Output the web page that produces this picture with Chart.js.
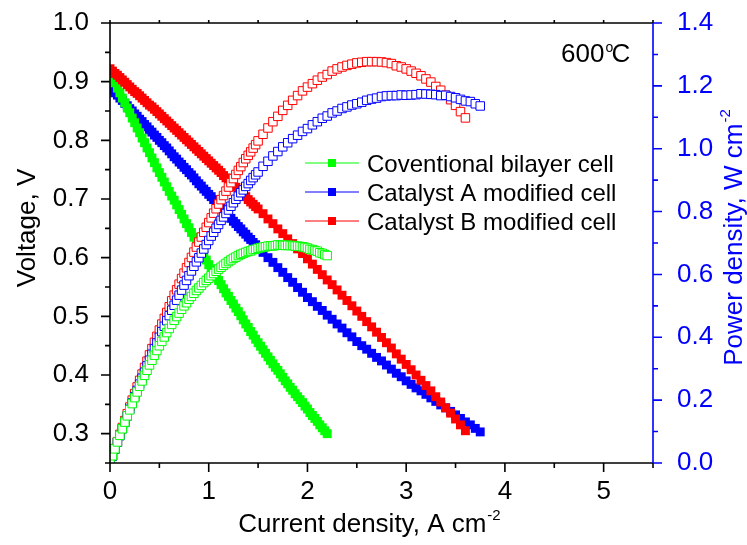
<!DOCTYPE html>
<html>
<head>
<meta charset="utf-8">
<script src="https://cdn.jsdelivr.net/npm/chart.js@4.4.0/dist/chart.umd.min.js"></script>
<style>
  html, body { margin: 0; padding: 0; background: #fff; }
</style>
</head>
<body>
<canvas id="polarization" width="747" height="545"></canvas>
<script>
// current density, A cm-2
const greenCurrent = [0, 0.025, 0.05, 0.075, 0.1, 0.125, 0.15, 0.175, 0.2, 0.225, 0.25, 0.275, 0.3, 0.325,
  0.35, 0.375, 0.4, 0.425, 0.45, 0.475, 0.5, 0.525, 0.55, 0.575, 0.6, 0.625, 0.65, 0.675, 0.7, 0.725,
  0.75, 0.775, 0.8, 0.825, 0.85, 0.875, 0.9, 0.925, 0.95, 0.975, 1, 1.025, 1.05, 1.075, 1.1, 1.125,
  1.15, 1.175, 1.2, 1.225, 1.25, 1.275, 1.3, 1.325, 1.35, 1.375, 1.4, 1.425, 1.45, 1.475, 1.5, 1.525,
  1.55, 1.575, 1.6, 1.625, 1.65, 1.675, 1.7, 1.725, 1.75, 1.775, 1.8, 1.825, 1.85, 1.875, 1.9, 1.925,
  1.95, 1.975, 2, 2.025, 2.05, 2.075, 2.1, 2.125, 2.15, 2.175, 2.2];
// catalyst cells: fine steps up to 1.5, coarser afterwards
const catalystCurrent = [0, 0.025, 0.05, 0.075, 0.1, 0.125, 0.15, 0.175, 0.2, 0.225, 0.25, 0.275, 0.3, 0.325,
  0.35, 0.375, 0.4, 0.425, 0.45, 0.475, 0.5, 0.525, 0.55, 0.575, 0.6, 0.625, 0.65, 0.675, 0.7, 0.725,
  0.75, 0.775, 0.8, 0.825, 0.85, 0.875, 0.9, 0.925, 0.95, 0.975, 1, 1.025, 1.05, 1.075, 1.1, 1.125,
  1.15, 1.175, 1.2, 1.225, 1.25, 1.275, 1.3, 1.325, 1.35, 1.375, 1.4, 1.425, 1.45, 1.475, 1.5,
  1.55, 1.6, 1.65, 1.7, 1.75, 1.8, 1.85, 1.9, 1.95, 2, 2.05, 2.1, 2.15, 2.2, 2.25, 2.3, 2.35, 2.4,
  2.45, 2.5, 2.55, 2.6, 2.65, 2.7, 2.75, 2.8, 2.85, 2.9, 2.95, 3, 3.05, 3.1, 3.15, 3.2, 3.25, 3.3,
  3.35, 3.4, 3.45, 3.5, 3.55, 3.6, 3.65, 3.7, 3.75];

// voltage, V
const greenVoltage = [0.915, 0.906, 0.898, 0.889, 0.881, 0.872, 0.864, 0.855, 0.847, 0.838, 0.830,
  0.821, 0.813, 0.804, 0.796, 0.787, 0.779, 0.770, 0.762, 0.753, 0.745,
  0.737, 0.729, 0.721, 0.713, 0.705, 0.698, 0.690, 0.682, 0.674, 0.666,
  0.658, 0.651, 0.643, 0.635, 0.627, 0.619, 0.611, 0.604, 0.596, 0.588,
  0.581, 0.574, 0.567, 0.561, 0.554, 0.547, 0.540, 0.534, 0.527, 0.521,
  0.514, 0.508, 0.501, 0.494, 0.487, 0.481, 0.474, 0.468, 0.461, 0.455,
  0.449, 0.443, 0.437, 0.431, 0.425, 0.419, 0.413, 0.408, 0.402, 0.396,
  0.390, 0.385, 0.379, 0.374, 0.368, 0.363, 0.358, 0.353, 0.347, 0.342,
  0.336, 0.331, 0.326, 0.321, 0.315, 0.310, 0.305, 0.300];
const blueVoltage = [0.890, 0.886, 0.881, 0.877, 0.872, 0.868, 0.863, 0.859, 0.854, 0.850, 0.845,
  0.841, 0.836, 0.832, 0.827, 0.823, 0.818, 0.814, 0.809, 0.805, 0.800,
  0.796, 0.791, 0.787, 0.782, 0.777, 0.772, 0.768, 0.763, 0.759, 0.754,
  0.750, 0.745, 0.741, 0.736, 0.731, 0.726, 0.722, 0.717, 0.713, 0.708,
  0.704, 0.699, 0.695, 0.690, 0.686, 0.681, 0.676, 0.671, 0.667, 0.662,
  0.658, 0.653, 0.649, 0.644, 0.640, 0.635, 0.631, 0.626, 0.622, 0.617,
  0.609, 0.600, 0.592, 0.583, 0.575, 0.566, 0.558, 0.549, 0.541, 0.532,
  0.525, 0.517, 0.510, 0.502, 0.495, 0.487, 0.480, 0.472, 0.465, 0.457,
  0.450, 0.444, 0.437, 0.430, 0.424, 0.417, 0.410, 0.403, 0.397, 0.390,
  0.384, 0.378, 0.373, 0.367, 0.361, 0.355, 0.349, 0.344, 0.338, 0.332,
  0.326, 0.320, 0.315, 0.309, 0.303];
const redVoltage = [0.922, 0.918, 0.914, 0.911, 0.907, 0.903, 0.899, 0.895, 0.891, 0.887, 0.883,
  0.880, 0.876, 0.872, 0.868, 0.864, 0.860, 0.857, 0.853, 0.849, 0.845,
  0.841, 0.837, 0.833, 0.829, 0.825, 0.821, 0.817, 0.813, 0.809, 0.805,
  0.801, 0.797, 0.793, 0.789, 0.785, 0.781, 0.777, 0.773, 0.769, 0.765,
  0.761, 0.757, 0.753, 0.749, 0.745, 0.740, 0.736, 0.732, 0.728, 0.724,
  0.720, 0.716, 0.712, 0.708, 0.704, 0.699, 0.695, 0.691, 0.687, 0.683,
  0.675, 0.666, 0.658, 0.649, 0.641, 0.632, 0.624, 0.615, 0.607, 0.598,
  0.589, 0.580, 0.571, 0.562, 0.554, 0.545, 0.536, 0.527, 0.518, 0.509,
  0.500, 0.491, 0.482, 0.473, 0.464, 0.455, 0.446, 0.436, 0.427, 0.418,
  0.409, 0.400, 0.391, 0.382, 0.373, 0.363, 0.354, 0.344, 0.335, 0.325,
  0.315, 0.305];

// power density, W cm-2
const greenPower = [0, 0.023, 0.045, 0.067, 0.088, 0.109, 0.130, 0.150, 0.169, 0.189, 0.208,
  0.226, 0.244, 0.261, 0.279, 0.295, 0.312, 0.327, 0.343, 0.358, 0.373,
  0.387, 0.401, 0.415, 0.428, 0.441, 0.454, 0.466, 0.477, 0.489, 0.500,
  0.510, 0.521, 0.530, 0.540, 0.549, 0.557, 0.565, 0.574, 0.581, 0.588,
  0.596, 0.603, 0.610, 0.617, 0.623, 0.629, 0.635, 0.641, 0.646, 0.651,
  0.655, 0.660, 0.664, 0.667, 0.670, 0.673, 0.675, 0.679, 0.680, 0.683,
  0.685, 0.687, 0.688, 0.690, 0.691, 0.691, 0.692, 0.694, 0.693, 0.693,
  0.692, 0.693, 0.692, 0.692, 0.690, 0.690, 0.689, 0.688, 0.686, 0.684,
  0.680, 0.679, 0.676, 0.674, 0.669, 0.667, 0.663, 0.660];
const bluePower = [0, 0.022, 0.044, 0.066, 0.087, 0.109, 0.129, 0.150, 0.171, 0.191, 0.211,
  0.231, 0.251, 0.270, 0.289, 0.309, 0.327, 0.346, 0.364, 0.382, 0.400,
  0.418, 0.435, 0.453, 0.469, 0.486, 0.502, 0.518, 0.534, 0.550, 0.566,
  0.581, 0.596, 0.611, 0.626, 0.640, 0.653, 0.668, 0.681, 0.695, 0.708,
  0.722, 0.734, 0.747, 0.759, 0.772, 0.783, 0.794, 0.805, 0.817, 0.828,
  0.839, 0.849, 0.860, 0.869, 0.880, 0.889, 0.899, 0.908, 0.917, 0.926,
  0.944, 0.960, 0.977, 0.991, 1.006, 1.019, 1.032, 1.043, 1.055, 1.064,
  1.076, 1.086, 1.097, 1.104, 1.114, 1.120, 1.128, 1.133, 1.139, 1.143,
  1.148, 1.154, 1.158, 1.161, 1.166, 1.168, 1.169, 1.169, 1.171, 1.170,
  1.171, 1.172, 1.175, 1.174, 1.173, 1.172, 1.169, 1.170, 1.166, 1.162,
  1.157, 1.152, 1.150, 1.143, 1.136];
const redPower = [0, 0.023, 0.046, 0.068, 0.091, 0.113, 0.135, 0.157, 0.178, 0.200, 0.221,
  0.242, 0.263, 0.283, 0.304, 0.324, 0.344, 0.364, 0.384, 0.403, 0.423,
  0.442, 0.460, 0.479, 0.497, 0.516, 0.534, 0.551, 0.569, 0.587, 0.604,
  0.621, 0.638, 0.654, 0.671, 0.687, 0.703, 0.719, 0.734, 0.750, 0.765,
  0.780, 0.795, 0.809, 0.824, 0.838, 0.851, 0.865, 0.878, 0.892, 0.905,
  0.918, 0.931, 0.943, 0.956, 0.968, 0.979, 0.990, 1.002, 1.013, 1.025,
  1.046, 1.066, 1.086, 1.103, 1.122, 1.138, 1.154, 1.169, 1.184, 1.196,
  1.207, 1.218, 1.228, 1.236, 1.247, 1.254, 1.260, 1.265, 1.269, 1.273,
  1.275, 1.277, 1.277, 1.277, 1.276, 1.274, 1.271, 1.264, 1.260, 1.254,
  1.247, 1.240, 1.232, 1.222, 1.212, 1.198, 1.186, 1.170, 1.156, 1.138,
  1.118, 1.098];

const seriesNames = ['Coventional bilayer cell', 'Catalyst A modified cell', 'Catalyst B modified cell'];
const seriesColors = ['#00ff00', '#0000ff', '#ff0000'];

// tick values (major ones get labels)
const xTicks = [0, 0.5, 1, 1.5, 2, 2.5, 3, 3.5, 4, 4.5, 5, 5.5];
const voltageTicks = [0.25, 0.3, 0.35, 0.4, 0.45, 0.5, 0.55, 0.6, 0.65, 0.7, 0.75, 0.8, 0.85, 0.9, 0.95, 1.0];
const powerTicks = [0, 0.1, 0.2, 0.3, 0.4, 0.5, 0.6, 0.7, 0.8, 0.9, 1.0, 1.1, 1.2, 1.3, 1.4];

const FONT = '"Liberation Sans", Arial, sans-serif';

function toPoints(xs, ys) {
  return ys.map((v, i) => ({ x: xs[i], y: v }));
}

function filled(xs, ys, idx, order) {
  return {
    label: seriesNames[idx],
    data: toPoints(xs, ys),
    yAxisID: 'y',
    showLine: false,
    pointStyle: 'rect',
    pointRadius: 6.3,
    backgroundColor: seriesColors[idx],
    borderColor: seriesColors[idx],
    borderWidth: 0,
    order: order
  };
}

function hollow(xs, ys, idx, order) {
  return {
    label: seriesNames[idx] + ' power',
    data: toPoints(xs, ys),
    yAxisID: 'y2',
    showLine: false,
    pointStyle: 'rect',
    pointRadius: 6,
    backgroundColor: '#ffffff',
    borderColor: seriesColors[idx],
    borderWidth: 1,
    order: order
  };
}

function setTicks(values) {
  return scale => { scale.ticks = values.map(v => ({ value: v })); };
}

// fixed box sizes so the plot area lands where the original one is
function fitVertical(width) {
  return scale => { scale.width = width; scale.paddingTop = 0; scale.paddingBottom = 0; };
}

// axes, tick marks, titles, legend and annotation
const framePlugin = {
  id: 'frame',
  afterDraw(chart) {
    const { ctx, chartArea: a, scales } = chart;
    ctx.save();
    ctx.lineWidth = 1.6;

    // black frame + x ticks + left ticks
    ctx.strokeStyle = '#000';
    ctx.beginPath();
    ctx.moveTo(a.left, a.top); ctx.lineTo(a.right, a.top);
    ctx.moveTo(a.left, a.top); ctx.lineTo(a.left, a.bottom); ctx.lineTo(a.right, a.bottom);
    scales.x.ticks.forEach(t => {
      const px = scales.x.getPixelForValue(t.value);
      const major = Number.isInteger(t.value);
      ctx.moveTo(px, a.bottom); ctx.lineTo(px, a.bottom + (major ? 9 : 5));
      ctx.moveTo(px, a.top); ctx.lineTo(px, a.top - 3);
    });
    scales.y.ticks.forEach(t => {
      const py = scales.y.getPixelForValue(t.value);
      const major = Math.round(t.value * 100) % 10 === 0;
      ctx.moveTo(a.left, py); ctx.lineTo(a.left - (major ? 9 : 5), py);
    });
    ctx.stroke();

    // blue right axis
    ctx.strokeStyle = '#0000ff';
    ctx.beginPath();
    ctx.moveTo(a.right, a.top); ctx.lineTo(a.right, a.bottom);
    scales.y2.ticks.forEach(t => {
      const py = scales.y2.getPixelForValue(t.value);
      const major = Math.round(t.value * 10) % 2 === 0;
      ctx.moveTo(a.right, py); ctx.lineTo(a.right + (major ? 9 : 5), py);
    });
    ctx.stroke();

    // x title
    ctx.fillStyle = '#000';
    ctx.textAlign = 'left';
    ctx.textBaseline = 'alphabetic';
    ctx.font = '26px ' + FONT;
    const xMain = 'Current density, A cm';
    const wMain = ctx.measureText(xMain).width;
    ctx.font = '15px ' + FONT;
    const wSup = ctx.measureText('-2').width;
    const sx = 369 - (wMain + wSup) / 2;
    ctx.font = '26px ' + FONT;
    ctx.fillText(xMain, sx, 532);
    ctx.font = '15px ' + FONT;
    ctx.fillText('-2', sx + wMain + 1, 520);

    // left title
    ctx.save();
    ctx.translate(35, 228);
    ctx.rotate(-Math.PI / 2);
    ctx.font = '26px ' + FONT;
    ctx.textAlign = 'center';
    ctx.fillText('Voltage, V', 0, 0);
    ctx.restore();

    // right title
    ctx.save();
    ctx.fillStyle = '#0000ff';
    ctx.font = '26px ' + FONT;
    const yMain = 'Power density, W cm';
    const wyMain = ctx.measureText(yMain).width;
    ctx.translate(742, 238);
    ctx.rotate(-Math.PI / 2);
    const start = -(wyMain + wSup) / 2;
    ctx.fillText(yMain, start, 0);
    ctx.font = '15px ' + FONT;
    ctx.fillText('-2', start + wyMain + 1, -12);
    ctx.restore();

    // temperature note
    ctx.font = '26px ' + FONT;
    ctx.fillText('600', 561, 62);
    const w600 = ctx.measureText('600').width;
    ctx.font = '14px ' + FONT;
    ctx.fillText('o', 561 + w600 + 1, 52);
    ctx.font = '26px ' + FONT;
    ctx.fillText('C', 561 + w600 + 7, 62);

    // legend
    const rows = [163, 192, 221];
    ctx.font = '24px ' + FONT;
    seriesNames.forEach((name, i) => {
      const y = rows[i];
      ctx.strokeStyle = seriesColors[i];
      ctx.lineWidth = 1;
      ctx.beginPath();
      ctx.moveTo(305, y); ctx.lineTo(359, y);
      ctx.stroke();
      ctx.fillStyle = seriesColors[i];
      ctx.fillRect(328, y - 4, 8, 8);
      ctx.fillStyle = '#000';
      ctx.fillText(name, 367, y + 8.5);
    });

    ctx.restore();
  }
};

const ctx = document.getElementById('polarization');

const polarizationChart = new Chart(ctx, {
  type: 'scatter',
  data: {
    datasets: [
      filled(catalystCurrent, blueVoltage, 1, 6),
      filled(greenCurrent, greenVoltage, 0, 5),
      filled(catalystCurrent, redVoltage, 2, 4),
      hollow(catalystCurrent, redPower, 2, 3),
      hollow(catalystCurrent, bluePower, 1, 2),
      hollow(greenCurrent, greenPower, 0, 1)
    ]
  },
  options: {
    responsive: false,
    animation: false,
    layout: { padding: { top: 23, left: 0, right: 0, bottom: 0 } },
    plugins: {
      legend: { display: false },
      tooltip: { enabled: false }
    },
    scales: {
      x: {
        type: 'linear',
        min: 0,
        max: 5.5,
        afterBuildTicks: setTicks(xTicks),
        afterFit: s => { s.height = 82; s.paddingLeft = 0; s.paddingRight = 0; },
        grid: { display: false },
        border: { display: false },
        ticks: {
          autoSkip: false,
          maxRotation: 0,
          padding: 5,
          color: '#000',
          font: { family: FONT, size: 26 },
          callback: v => Number.isInteger(v) ? String(v) : ''
        }
      },
      y: {
        position: 'left',
        min: 0.25,
        max: 1.0,
        afterBuildTicks: setTicks(voltageTicks),
        afterFit: fitVertical(110),
        grid: { display: false },
        border: { display: false },
        ticks: {
          autoSkip: false,
          padding: 13,
          color: '#000',
          font: { family: FONT, size: 26 },
          callback: v => Math.round(v * 100) % 10 === 0 ? v.toFixed(1) : ''
        }
      },
      y2: {
        position: 'right',
        min: 0,
        max: 1.4,
        afterBuildTicks: setTicks(powerTicks),
        afterFit: fitVertical(94),
        grid: { display: false },
        border: { display: false },
        ticks: {
          autoSkip: false,
          padding: 16,
          color: '#0000ff',
          font: { family: FONT, size: 26 },
          callback: v => Math.round(v * 10) % 2 === 0 ? v.toFixed(1) : ''
        }
      }
    }
  },
  plugins: [framePlugin]
});
</script>
</body>
</html>
